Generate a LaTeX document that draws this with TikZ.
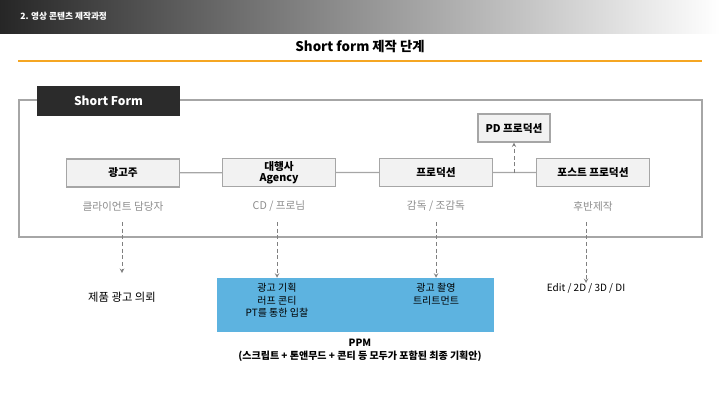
\documentclass[tikz,border=0pt]{standalone}
\usepackage{fontspec}
\setmainfont{Noto Sans CJK KR}
\usetikzlibrary{positioning}
\definecolor{boxgray}{HTML}{F2F2F2}
\definecolor{linegray}{HTML}{A6A6A6}
\definecolor{subgray}{HTML}{8C8C8C}
\definecolor{ppmblue}{HTML}{5DB3E0}
\definecolor{barorange}{HTML}{F5A623}
\definecolor{darklabel}{HTML}{2B2B2B}
\begin{document}
\begin{tikzpicture}[x=0.75pt, y=-0.75pt,
    every node/.style={align=center, text centered, inner sep=0pt},
    rolebox/.style={draw=linegray, fill=boxgray, line width=0.8pt,
        minimum width=85pt, minimum height=21pt, font=\fontsize{8}{9}\selectfont\bfseries},
    subtext/.style={text=subgray, font=\fontsize{8}{9}\selectfont},
    worktext/.style={font=\fontsize{7.5}{9.5}\selectfont},
    dasharrow/.style={->, >=stealth, densely dashed, draw=gray, line width=0.5pt}
  ]
  \useasboundingbox (0,0) rectangle (720,405);
  % header bar
  \shade[left color=black!85, right color=white] (0,0) rectangle (720,33);
  \node[anchor=west, text=white, font=\fontsize{6.5}{7}\selectfont\bfseries] (hdr) at (20,16) {2. 영상 콘텐츠 제작과정};
  \node[font=\fontsize{10}{12}\selectfont\bfseries] (title) at (360,46) {Short form 제작 단계};
  \draw[barorange, line width=2.2pt] (18,61) -- (702,61);

  % frame
  \draw[linegray, line width=1pt] (19,100) rectangle (702,237);
  \node[fill=darklabel, text=white, minimum width=107pt, minimum height=22pt,
        font=\fontsize{9}{10}\selectfont\bfseries] (frame) at (108.5,101) {Short Form};

  % roles
  \node[rolebox] (client) at (123,173) {광고주};
  \node[rolebox] (agency) at (279,172.5) {대행사\\[-1pt]Agency};
  \node[rolebox] (prod) at (436,172.5) {프로덕션};
  \node[rolebox] (post) at (593,172.5) {포스트 프로덕션};
  \node[rolebox, minimum width=54pt] (pd) at (514,128) {PD 프로덕션};
  \draw[linegray, line width=1pt] (client) -- (agency) -- (prod) -- (post);
  \coordinate (pdfoot) at (514,173);
  \draw[dasharrow] (pdfoot) -- (pd.south);

  \node[subtext] (clientsub) at (123,206) {클라이언트 담당자};
  \node[subtext] (agencysub) at (279,206) {CD / 프로님};
  \node[subtext] (prodsub) at (436,206) {감독 / 조감독};
  \node[subtext] (postsub) at (593,206) {후반제작};

  % results
  \node[fill=ppmblue, minimum width=208pt, minimum height=40.5pt] (ppm) at (355.5,305) {};
  \node[worktext, anchor=north] (plan) at (277,283) {광고 기획\\러프 콘티\\PT를 통한 입찰};
  \node[worktext, anchor=north] (shoot) at (436,283) {광고 촬영\\트리트먼트};
  \node[font=\fontsize{8.5}{10}\selectfont] (request) at (122,297) {제품 광고 의뢰};
  \node[worktext, anchor=north] (edit) at (586,283) {Edit / 2D / 3D / DI};
  \node[font=\fontsize{7.5}{9.5}\selectfont\bfseries] (ppmtext) at (360,350) {PPM\\(스크립트 + 톤앤무드 + 콘티 등 모두가 포함된 최종 기획안)};

  \coordinate (reqtop) at (122,273);
  \draw[dasharrow] (122,222) -- (reqtop);
  \draw[dasharrow] (277,222) -- (plan.north |- ppm.north);
  \draw[dasharrow] (436,222) -- (shoot.north |- ppm.north);
  \draw[dasharrow] (586,222) -- (edit.north);
\end{tikzpicture}
\end{document}
